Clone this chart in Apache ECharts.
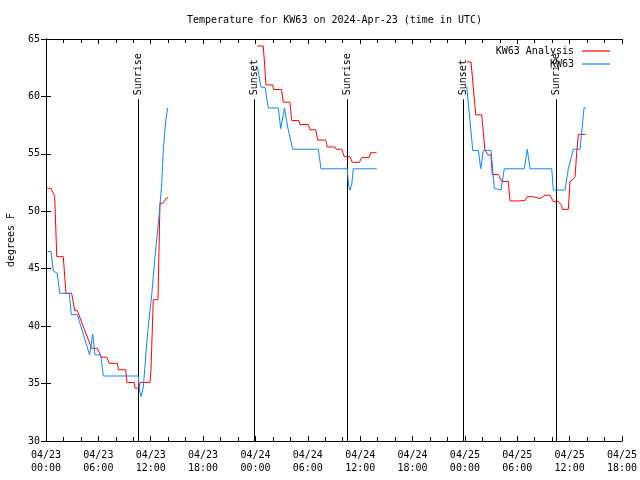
<!DOCTYPE html>
<html><head><meta charset="utf-8">
<script src="https://cdn.jsdelivr.net/npm/echarts@6/dist/echarts.min.js"></script>
<style>html,body{margin:0;padding:0;background:#fff}#c{width:640px;height:480px}</style>
</head><body><div id="c"></div>
<script>
// hours since 2024-04-23 00:00 UTC, temperature in degrees F
var analysisDay1 = [[0.15,52.0],[0.57,52.0],[0.80,51.6],[1.00,51.3],[1.23,46.05],[1.98,46.05],[2.29,42.86],[2.94,42.86],[3.29,41.35],[3.59,41.35],[4.35,39.8],[5.24,38.07],[5.88,38.07],[6.34,37.3],[6.96,37.3],[7.25,36.76],[8.17,36.76],[8.31,36.2],[9.13,36.2],[9.28,35.1],[10.12,35.1],[10.2,34.6],[10.69,34.6],[10.77,35.1],[11.92,35.1],[12.03,36.2],[12.29,42.3],[12.83,42.3],[13.06,50.7],[13.41,50.7],[13.75,51.1],[13.98,51.2]];
var analysisDay2 = [[24.21,64.39],[24.9,64.39],[25.21,61.0],[25.98,61.0],[26.07,60.6],[27.0,60.6],[27.19,59.5],[27.96,59.5],[28.15,57.9],[28.99,57.9],[29.1,57.55],[30.06,57.55],[30.25,57.1],[30.9,57.1],[31.13,56.2],[32.05,56.2],[32.23,55.6],[33.11,55.6],[33.23,55.4],[33.88,55.4],[34.18,54.75],[34.83,54.75],[35.1,54.26],[35.9,54.26],[36.17,54.67],[37.01,54.67],[37.2,55.1],[37.89,55.1]];
var analysisDay3 = [[48.21,63.0],[48.7,63.0],[49.24,58.4],[49.93,58.4],[50.3,55.3],[50.68,54.9],[50.99,54.9],[51.14,53.2],[51.83,53.2],[52.22,52.6],[52.97,52.6],[53.17,50.9],[54.12,50.9],[54.31,50.95],[54.89,50.95],[55.15,51.27],[55.84,51.27],[56.03,51.1],[56.6,51.1],[56.8,51.27],[57.18,51.4],[57.75,51.4],[58.13,50.85],[58.7,50.85],[59.09,50.5],[59.16,50.17],[59.85,50.17],[60.04,52.6],[60.27,52.7],[60.62,53.0],[60.8,55.0],[61.0,56.7],[61.84,56.7]];
var obsDay1 = [[0.15,46.5],[0.57,46.5],[0.84,44.8],[1.29,44.6],[1.57,42.86],[2.67,42.86],[2.9,41.0],[3.59,41.0],[4.35,39.1],[5.0,37.5],[5.35,39.3],[5.61,37.5],[6.27,37.5],[6.57,35.66],[10.58,35.66],[10.66,34.6],[10.85,34.6],[10.9,33.86],[11.0,33.86],[11.15,34.7],[11.34,36.5],[11.54,38.5],[11.73,40.0],[11.92,41.4],[12.11,42.7],[12.49,46.05],[12.98,49.8],[13.26,52.4],[13.44,55.3],[13.72,57.9],[13.94,59.0]];
var obsDay2 = [[24.21,62.6],[24.41,62.6],[24.64,60.8],[25.1,60.8],[25.47,59.0],[26.62,59.0],[26.89,57.2],[27.04,57.2],[27.33,59.0],[27.5,59.0],[27.73,57.2],[28.27,55.4],[31.2,55.4],[31.51,53.7],[34.52,53.7],[34.66,52.3],[34.83,51.85],[35.03,52.3],[35.21,53.7],[37.89,53.7]];
var obsDay3 = [[48.21,60.85],[48.9,55.3],[49.54,55.3],[49.81,53.7],[50.11,55.3],[50.99,55.3],[51.37,52.0],[51.45,51.85],[52.14,51.85],[52.51,53.7],[54.8,53.7],[55.15,55.4],[55.46,53.7],[57.95,53.7],[58.13,51.85],[59.47,51.85],[59.85,53.7],[60.43,55.4],[61.19,55.4],[61.65,59.0],[61.84,59.0]];
var sunHours = [10.58, 23.87, 34.52, 47.82, 58.44];
var sunNames = ['Sunrise','Sunset','Sunrise','Sunset','Sunrise'];
var titleText = 'Temperature for KW63 on 2024-Apr-23 (time in UTC)';
var yName = 'degrees F';
var analysisName = 'KW63 Analysis';
var obsName = 'KW63';

var FONT = 'DejaVu Sans Mono';
var chart = echarts.init(document.getElementById('c'), null, {renderer:'canvas'});
function fmtX(v){
  var d = 23 + Math.floor(v/24);
  var h = Math.round(v % 24);
  return '04/' + (d<10?'0':'') + d + '\n' + (h<10?'0':'') + h + ':00';
}
var xCommon = {type:'value', min:0, max:66, interval:6,
  axisLine:{show:true, lineStyle:{color:'#000', width:1}},
  axisTick:{show:true, inside:true, length:5, lineStyle:{color:'#000'}},
  minorTick:{show:true, splitNumber:3, length:4, lineStyle:{color:'#000'}},
  splitLine:{show:false}};
var yCommon = {type:'value', min:30, max:65, interval:5,
  axisLine:{show:true, lineStyle:{color:'#000', width:1}},
  axisTick:{show:true, inside:true, length:5, lineStyle:{color:'#000'}},
  splitLine:{show:false}};
function lineSeries(name, data, color){
  return {type:'line', name:name, data:data, symbol:'none', showSymbol:false, xAxisIndex:0, yAxisIndex:0,
    lineStyle:{color:color, width:1}, itemStyle:{color:color}, animation:false, z:3};
}
var RED = '#ff0000', BLUE = '#0a88ff';
var legendIcon = 'path://M0,0L28,0L28,1.2L0,1.2Z';
var option = {
  animation:false,
  backgroundColor:'#fff',
  title:{text:titleText, left:182, top:10, textStyle:{fontFamily:FONT, fontSize:10, fontWeight:'normal', color:'#000'}},
  legend:{data:[{name:analysisName, icon:legendIcon}, {name:obsName, icon:legendIcon}],
    orient:'vertical', align:'right', right:25, top:41,
    itemWidth:28, itemHeight:1.2, itemGap:3,
    textStyle:{fontFamily:FONT, fontSize:10, color:'#000', padding:[0,3,0,0]}},
  grid:{left:46, right:18, top:39, bottom:39, containLabel:false, outerBoundsMode:'none'},
  xAxis:[
    Object.assign({position:'bottom', axisLabel:{show:true, formatter:fmtX, fontFamily:FONT, fontSize:10, color:'#000', margin:8, lineHeight:13, showMinLabel:true, showMaxLabel:true}}, xCommon),
    Object.assign({position:'top', axisLabel:{show:false}}, xCommon)
  ],
  yAxis:[
    Object.assign({position:'left', name:yName, nameLocation:'middle', nameGap:30, nameRotate:90,
      nameTextStyle:{fontFamily:FONT, fontSize:10, color:'#000'},
      axisLabel:{show:true, fontFamily:FONT, fontSize:10, color:'#000', margin:6}}, yCommon),
    Object.assign({position:'right', axisLabel:{show:false}}, yCommon)
  ],
  series:[
    lineSeries(analysisName, analysisDay1, RED),
    lineSeries(analysisName, analysisDay2, RED),
    lineSeries(analysisName, analysisDay3, RED),
    lineSeries(obsName, obsDay1, BLUE),
    lineSeries(obsName, obsDay2, BLUE),
    lineSeries(obsName, obsDay3, BLUE),
    {type:'custom', name:'sun', xAxisIndex:0, yAxisIndex:0, z:2,
      data: sunHours.map(function(h){return [h, 30];}),
      encode:{x:0, y:1},
      renderItem:function(params, api){
        var h = api.value(0);
        var b = api.coord([h, 30]);
        var t = api.coord([h, 59.75]);
        var x = Math.round(b[0]) + 0.5;
        return {type:'group', children:[
          {type:'line', shape:{x1:x, y1:b[1], x2:x, y2:t[1]}, style:{stroke:'#000', lineWidth:1}},
          {type:'text', x:x, y:t[1]-4, rotation:Math.PI/2,
            style:{text:sunNames[params.dataIndex], font:'10px ' + FONT, fill:'#000', align:'left', verticalAlign:'middle'}}
        ]};
      }
    }
  ]
};
chart.setOption(option);
</script></body></html>
